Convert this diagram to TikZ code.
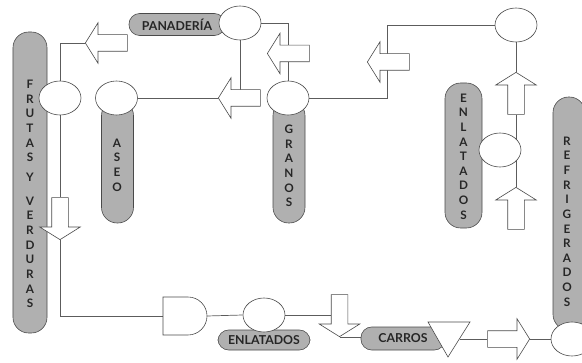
\documentclass[tikz,border=0pt]{standalone}
\usepackage{fontspec}
\setmainfont{Lato}
\usetikzlibrary{shapes.geometric, shapes.arrows, backgrounds}

\definecolor{linec}{HTML}{5C5C5C}
\definecolor{edgec}{HTML}{4A4A4A}
\definecolor{pillc}{HTML}{B0B0B0}
\definecolor{textc}{HTML}{262626}

\begin{document}
\begin{tikzpicture}[
    x=0.3mm, y=-0.3mm,
    every node/.style={font=\bfseries, text=textc},
    ellip/.style={ellipse, draw=edgec, fill=white, line width=0.5pt,
        minimum width=12.6mm, minimum height=10.2mm, inner sep=0pt},
    hpill/.style={draw=edgec, fill=pillc, line width=0.5pt, rounded corners=3.2mm,
        inner sep=0pt, font=\fontsize{10.5}{12}\selectfont\bfseries},
    vpill/.style={draw=edgec, fill=pillc, line width=0.5pt, rounded corners=4.7mm,
        minimum width=9.6mm, inner sep=0pt},
    vtext/.style={align=center, inner sep=0pt, font=\fontsize{10}{12.5}\selectfont\bfseries},
    barrow/.style={single arrow, draw=edgec, fill=white, line width=0.5pt,
        inner sep=2.4mm, minimum height=12.6mm,
        single arrow head extend=3.6mm, single arrow tip angle=116, anchor=tip},
    shapebox/.style={draw=edgec, fill=white, line width=0.5pt},
    conn/.style={draw=linec, line width=0.6pt},
]

% === Frame ===
\useasboundingbox (0,0) rectangle (582,363);
\clip (0,0) rectangle (582,363);

% === Vertical pills ===
\node[vpill, minimum width=10.2mm, minimum height=90.3mm] (frutas) at (30,182.5) {};
\node[vpill, minimum height=36.9mm] (aseo) at (117.5,161.5) {};
\node[vpill, minimum height=36.9mm] (granos) at (289,161.5) {};
\node[vpill, minimum width=11.1mm, minimum height=43.5mm] (enlV) at (463.5,155.5) {};
\node[vpill, minimum height=69.9mm] (refr) at (569,213.5) {};

\node[vtext] (frutasT) at (30,194) {F\\R\\U\\T\\A\\S\\[4pt]Y\\[8pt]V\\E\\R\\D\\U\\R\\A\\S};
\node[vtext] (aseoT) at (117,165) {A\\S\\E\\O};
\node[vtext] (granT) at (289,166) {G\\R\\A\\N\\O\\S};
\node[vtext] (enlVT) at (463.5,156.5) {E\\N\\L\\A\\T\\A\\D\\O\\S};
\node[vtext] (refT) at (567,221.5) {R\\E\\F\\R\\I\\G\\E\\R\\A\\D\\O\\S};

% === Horizontal pills ===
\node[hpill, minimum width=28.8mm, minimum height=6.6mm] (panaderia) at (177,24.5) {PANADERÍA};
\node[hpill, minimum width=27.6mm, minimum height=6mm] (enlH) at (264,340) {ENLATADOS};
\node[hpill, minimum width=25.2mm, minimum height=6.9mm] (carros) at (403,338.5) {CARROS};

% === Ellipses ===
\node[ellip] (frutasE) at (60,98) {};
\node[ellip] (aseoE) at (116.5,98) {};
\node[ellip] (panE) at (240,23) {};
\node[ellip] (granE) at (288,98) {};
\node[ellip] (topE) at (516,25) {};
\node[ellip] (midE) at (500,150) {};
\node[ellip] (enlE) at (264,315) {};
\node[ellip] (refE) at (572,339) {};

% === Gate and triangle ===
\draw[shapebox] (163,297) -- (188,297) arc[start angle=90, end angle=-90, radius=5.7mm]
    -- (163,335) -- cycle;
\coordinate (gateIn) at (163,316);
\coordinate (gateOut) at (207,316);
\draw[shapebox] (428,322) -- (470,322) -- (448,357) -- cycle;
\coordinate (triR) at (460,339);

% === Block arrows ===
\node[barrow, shape border rotate=180] (arrFr) at (85,43) {};
\node[barrow, shape border rotate=180] (arrGr) at (267,53.5) {};
\node[barrow, shape border rotate=180] (arrAs) at (218,98) {};
\node[barrow, shape border rotate=180] (arrTop) at (367,62) {};
\node[barrow, shape border rotate=90] (arrUp1) at (516,72) {};
\node[barrow, shape border rotate=90] (arrUp2) at (516,187) {};
\node[barrow, shape border rotate=270] (arrDn1) at (60,240) {};
\node[barrow, shape border rotate=270] (arrDn2) at (339.5,337) {};
\node[barrow, shape border rotate=0] (arrRt) at (530,339) {};

% === Connectors ===
\begin{scope}[on background layer]
\draw[conn] (frutasE.north) |- (arrFr.tip);
\draw[conn] (frutasE.south) -- (arrDn1.tail);
\draw[conn] (arrDn1.tip) |- (gateIn);
\draw[conn] (gateOut) -- (enlE.west);
\draw[conn] (enlE.east) -- (enlE.east -| arrDn2.tip);
\draw[conn] (arrDn2.tip) -- (arrDn2.tip -| carros.west);
\draw[conn] (triR) -- (arrRt.tail);
\draw[conn] (arrRt.tip) -- (refE.west);
\draw[conn] (panE.east) -| (granE.north);
\draw[conn] (panE.south) -- (panE.south |- arrAs.tip);
\draw[conn] (aseoE.east) -- (arrAs.tip);
\draw[conn] (granE.east) -- ++(78,0) |- (topE.west);
\draw[conn] (topE.south) -- (arrUp1.tip);
\draw[conn] (arrUp1.tail) -- (arrUp2.tip);
\end{scope}

\end{tikzpicture}
\end{document}
